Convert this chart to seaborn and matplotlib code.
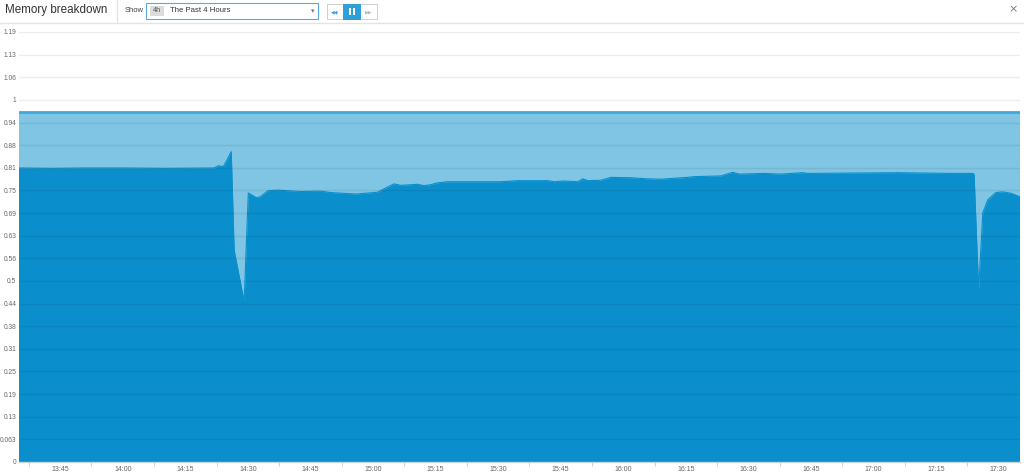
import numpy as np
import pandas as pd
import matplotlib
matplotlib.use("Agg")
import matplotlib.pyplot as plt
import matplotlib.dates as mdates
from matplotlib.patches import Rectangle
from matplotlib.lines import Line2D
import seaborn as sns

# ---------------- data ----------------
times = ["13:35:00", "13:43:00", "13:51:00", "14:00:00", "14:10:00", "14:21:54",
         "14:22:54", "14:24:06", "14:24:48", "14:26:00", "14:26:42", "14:29:06",
         "14:30:06", "14:32:00", "14:32:54", "14:34:48", "14:37:12", "14:39:36",
         "14:42:45", "14:47:30", "14:49:54", "14:55:54", "15:01:06", "15:02:36",
         "15:05:00", "15:06:42", "15:10:42", "15:12:12", "15:13:54", "15:15:30",
         "15:17:54", "15:30:42", "15:34:42", "15:41:54", "15:43:24", "15:45:48",
         "15:49:06", "15:50:18", "15:51:30", "15:54:36", "15:57:00", "16:01:48",
         "16:05:48", "16:09:06", "16:11:30", "16:15:24", "16:16:54", "16:23:24",
         "16:26:12", "16:27:48", "16:33:48", "16:37:48", "16:43:00", "16:44:12",
         "16:55:18", "17:05:42", "17:12:06", "17:18:30", "17:23:48", "17:24:06",
         "17:25:12", "17:26:12", "17:27:24", "17:29:18", "17:31:00", "17:33:00",
         "17:35:00"]
used_memory = [0.812, 0.811, 0.812, 0.812, 0.811, 0.812,
               0.818, 0.816, 0.830, 0.857, 0.585, 0.443,
               0.743, 0.730, 0.732, 0.749, 0.751, 0.749,
               0.747, 0.748, 0.744, 0.740, 0.745, 0.754,
               0.768, 0.764, 0.767, 0.763, 0.766, 0.771,
               0.774, 0.774, 0.777, 0.777, 0.774, 0.776,
               0.774, 0.782, 0.777, 0.778, 0.786, 0.785,
               0.782, 0.781, 0.783, 0.786, 0.788, 0.790,
               0.800, 0.795, 0.797, 0.795, 0.799, 0.797,
               0.798, 0.799, 0.798, 0.797, 0.797, 0.795,
               0.475, 0.688, 0.724, 0.744, 0.746, 0.742,
               0.733]
total_times = ["13:35:00", "17:35:00"]
total_memory = [0.966, 0.966]

y_ticks = [0, 0.0625, 0.125, 0.1875, 0.25, 0.3125, 0.375, 0.4375, 0.5, 0.5625,
           0.625, 0.6875, 0.75, 0.8125, 0.875, 0.9375, 1.0, 1.0625, 1.125, 1.1875]
y_tick_labels = ["0", "0.063", "0.13", "0.19", "0.25", "0.31", "0.38", "0.44", "0.5",
                 "0.56", "0.63", "0.69", "0.75", "0.81", "0.88", "0.94", "1", "1.06",
                 "1.13", "1.19"]
day = "2024-01-01 "
x_start, x_end = "13:35:00", "17:35:00"

# ---------------- style ----------------
dark = "#0a8fcc"
light = "#80c5e4"
topline = "#3fa8da"

sns.set_theme(style="white")
plt.rcParams['font.family'] = ['Liberation Sans', 'DejaVu Sans']

W, H = 1024, 474
fig = plt.figure(figsize=(W / 100, H / 100), dpi=100)


def fy(py):
    return 1 - py / H


ax = fig.add_axes([18.5 / W, 12 / H, 1001 / W, 430 / H])

df = pd.DataFrame({"time": pd.to_datetime([day + t for t in times]), "used": used_memory})
dt = pd.DataFrame({"time": pd.to_datetime([day + t for t in total_times]), "total": total_memory})

ax.fill_between(dt["time"], 0, dt["total"], color=light, lw=0, zorder=1)
ax.fill_between(df["time"], 0, df["used"], color=dark, lw=0, zorder=2)
sns.lineplot(data=df, x="time", y="used", ax=ax, color=dark, lw=0.8, zorder=2.1)
sns.lineplot(data=dt, x="time", y="total", ax=ax, color=topline, lw=2, zorder=3)

ax.set_xlabel("")
ax.set_ylabel("")

ax.set_yticks(y_ticks)
ax.set_yticklabels(y_tick_labels)
ax.tick_params(axis="y", length=0, pad=1.5, labelsize=4.8, labelcolor="#666666")
ax.set_axisbelow(False)
ax.yaxis.grid(True, color="black", alpha=0.07, lw=1)
ax.xaxis.grid(False)

ax.xaxis.set_major_locator(mdates.MinuteLocator(byminute=[0, 15, 30, 45]))
ax.xaxis.set_major_formatter(mdates.DateFormatter("%H:%M"))
minor = pd.date_range(day + "13:37:30", day + "17:22:30", freq="15min")
ax.set_xticks(minor, minor=True)
ax.tick_params(axis="x", which="major", length=0, pad=3, labelsize=5.0, labelcolor="#666666")
ax.tick_params(axis="x", which="minor", length=3, width=0.6, color="#c8c8c8", bottom=True)

ax.set_xlim(pd.Timestamp(day + x_start), pd.Timestamp(day + x_end))
ax.set_ylim(0, 1.1875)

for s in ["top", "right", "left"]:
    ax.spines[s].set_visible(False)
ax.spines["bottom"].set_color("#c9d3d8")
ax.spines["bottom"].set_linewidth(1)

# ---------------- header ----------------
hdr = ['Liberation Sans', 'DejaVu Sans']
fig.add_artist(Line2D([0, 1], [fy(22.5), fy(22.5)], color="#e4e4e4", lw=1))
fig.add_artist(Line2D([117 / W, 117 / W], [fy(0), fy(22)], color="#e4e4e4", lw=1))
fig.text(5 / W, fy(10.5), "Memory breakdown", fontsize=8.4, color="#333333", va="center",
         ha="left", family=hdr)
fig.text(125 / W, fy(10.5), "Show", fontsize=5.5, color="#444444", va="center", ha="left",
         family=hdr)
fig.add_artist(Rectangle((146 / W, fy(19)), 172 / W, 16 / H, transform=fig.transFigure,
                         facecolor="white", edgecolor="#5aa9df", lw=0.8))
fig.add_artist(Rectangle((150 / W, fy(16)), 14 / W, 10 / H, transform=fig.transFigure,
                         facecolor="#dcdcdc", edgecolor="none"))
fig.text(157 / W, fy(11), "4h", fontsize=5.2, color="#555555", va="center", ha="center",
         family=hdr)
fig.text(170 / W, fy(11), "The Past 4 Hours", fontsize=5.6, color="#333333", va="center",
         ha="left", family=hdr)
fig.text(313 / W, fy(11), "▾", fontsize=5, color="#777777", va="center", ha="center",
         family="DejaVu Sans")
fig.add_artist(Rectangle((327 / W, fy(19)), 50 / W, 15 / H, transform=fig.transFigure,
                         facecolor="white", edgecolor="#d0d0d0", lw=0.7))
fig.add_artist(Rectangle((343 / W, fy(19)), 17 / W, 15 / H, transform=fig.transFigure,
                         facecolor="#2d9fd9", edgecolor="#2d9fd9", lw=0.7))
fig.text(335 / W, fy(11.5), "◀◀", fontsize=3.5, color="#2d9fd9", va="center", ha="center",
         family="DejaVu Sans")
fig.add_artist(Rectangle((348.5 / W, fy(15)), 2 / W, 7 / H, transform=fig.transFigure,
                         facecolor="white", edgecolor="none"))
fig.add_artist(Rectangle((352.5 / W, fy(15)), 2 / W, 7 / H, transform=fig.transFigure,
                         facecolor="white", edgecolor="none"))
fig.text(368.5 / W, fy(11.5), "▶▶", fontsize=3.5, color="#bbbbbb", va="center", ha="center",
         family="DejaVu Sans")
fig.text(1013 / W, fy(9), "×", fontsize=8, color="#777777", va="center", ha="center",
         family="DejaVu Sans")

fig.savefig("out.png", dpi=100)
